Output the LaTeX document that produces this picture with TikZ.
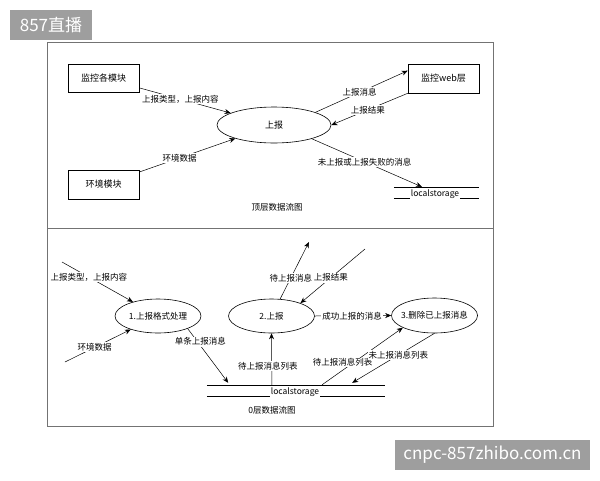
\documentclass[tikz,border=0pt]{standalone}
\usepackage{fontspec}
\setmainfont{Noto Sans CJK SC}
\usetikzlibrary{arrows.meta,shapes.geometric,calc}
\begin{document}
\begin{tikzpicture}[x=1pt,y=-1pt,
  box/.style={draw,line width=0.6pt,minimum width=71pt,minimum height=28pt,inner sep=0,font=\fontsize{9}{10}\selectfont},
  proc/.style={draw,ellipse,line width=0.6pt,inner sep=0},
  ptext/.style={inner sep=0,font=\fontsize{8.5}{10}\selectfont},
  lbl/.style={fill=white,inner sep=1pt,font=\fontsize{8.5}{10}\selectfont},
  flow/.style={line width=0.5pt,-{Stealth[length=6pt,width=5pt]}},
  frame/.style={draw=black!55,line width=0.8pt},
  badge/.style={fill=black!38,text=white,inner sep=0,font=\fontsize{17}{18}\selectfont},
  store/.style={inner sep=0,minimum height=11pt},
  sline/.style={line width=0.5pt},
]
\useasboundingbox (0,0) rectangle (600,480);
\fill[white] (0,0) rectangle (600,480);

% badges
\node[badge,minimum width=82pt,minimum height=30pt] (b1) at (51,25) {857直播};
\node[badge,minimum width=195pt,minimum height=30pt] (b2) at (492.5,455) {cnpc-857zhibo.com.cn};

% frames
\draw[frame] (47,42) rectangle (493,228);
\draw[frame] (47,228) rectangle (493,426);

% ---------- top diagram ----------
\node[box] (mod) at (103.5,78) {监控各模块};
\node[box,minimum height=29pt] (env) at (103.5,184.5) {环境模块};
\node[box,minimum height=29pt] (web) at (443.5,78.5) {监控web层};
\node[proc,minimum width=114pt,minimum height=36pt] (e0) at (274,125) {};
\node[ptext,font=\fontsize{9}{10}\selectfont] (e0t) at (e0) {上报};

\node[store,minimum width=85pt] (ls1) at (436.5,192.5) {};
\node[ptext,anchor=base] (ls1t) at (435,196) {localstorage};
\draw[sline] (ls1.north west) -- (ls1.north east);
\draw[sline] (ls1.south west) -- ($(ls1t.west |- ls1.south)+(-1,0)$);
\draw[sline] ($(ls1t.east |- ls1.south)+(1,0)$) -- (ls1.south east);
\coordinate (ls1in) at ($(ls1.north west)+(28,0)$);

\draw[flow] (mod) -- node[lbl,pos=0.45] (l1) {上报类型，上报内容} (e0);
\draw[flow] (env) -- node[lbl,pos=0.42] (l2) {环境数据} (e0);
\draw[flow] (e0.17.6) -- node[lbl,pos=0.48] (l3) {上报消息} ($(web.north west)+(0,7)$);
\draw[flow] (web.south west) -- node[lbl,pos=0.52] (l4) {上报结果} (e0.east);
\draw[flow] (e0.-20.4) -- node[lbl,pos=0.48] (l5) {未上报或上报失败的消息} (ls1in);

\node[ptext] (t0) at (277,207) {顶层数据流图};

% ---------- bottom diagram ----------
\node[proc,minimum width=86pt,minimum height=34pt] (e1) at (158,316) {};
\node[ptext] (e1t) at (e1) {1.上报格式处理};
\node[proc,minimum width=86pt,minimum height=34pt] (e2) at (271.5,316) {};
\node[ptext] (e2t) at (e2) {2.上报};
\node[proc,minimum width=86pt,minimum height=35pt] (e3) at (434.5,315.5) {};
\node[ptext] (e3t) at (e3) {3.删除已上报消息};

\node[store,minimum width=178pt,minimum height=11pt] (ls2) at (296,390.5) {};
\node[ptext,anchor=base] (ls2t) at (295,394) {localstorage};
\draw[sline] (ls2.north west) -- (ls2.north east);
\draw[sline] (ls2.south west) -- ($(ls2t.west |- ls2.south)+(-1,0)$);
\draw[sline] ($(ls2t.east |- ls2.south)+(1,0)$) -- (ls2.south east);
\coordinate (ls2a) at ($(ls2.north west)!0.365!(ls2.north east)$);
\coordinate (ls2b) at ($(ls2.north west)!0.646!(ls2.north east)$);
\coordinate (ls2c) at ($(ls2.north west)!0.815!(ls2.north east)$);
\coordinate (ls2d) at ($(ls2.north west)!0.12!(ls2.north east)$);

\coordinate (c1) at (62,262);
\coordinate (c2) at (65,362);
\coordinate (c3) at (309,242);
\coordinate (c4) at (365,249);

\draw[flow] (c1) -- node[lbl,pos=0.38] (m1) {上报类型，上报内容} (e1);
\draw[flow] (c2) -- node[lbl,pos=0.45] (m2) {环境数据} (e1);
\draw[flow] (e1.-23.4) -- node[lbl,pos=0.24,xshift=3pt] (m3) {单条上报消息} ($(ls2d)+(0,-2)$);
\draw[flow] (ls2a) -- node[lbl,pos=0.37,xshift=-4pt] (m4) {待上报消息列表} (e2.south);
\draw[flow] (e2) -- node[lbl,pos=0.37] (m5) {待上报消息} (c3);
\draw[flow] (c4) -- node[lbl,pos=0.53] (m6) {上报结果} (e2.24.7);
\draw[flow] (e2.east) -- node[lbl,pos=0.49] (m7) {成功上报的消息} (e3.west);
\draw[flow] (ls2b) -- node[lbl,pos=0.39,xshift=-11pt] (m8) {待上报消息列表} (e3.201);
\draw[flow] (e3.south) -- node[lbl,pos=0.44] (m9) {未上报消息列表} ($(ls2c)+(0,-2)$);

\node[ptext] (t1) at (272,410) {0层数据流图};
\end{tikzpicture}
\end{document}
